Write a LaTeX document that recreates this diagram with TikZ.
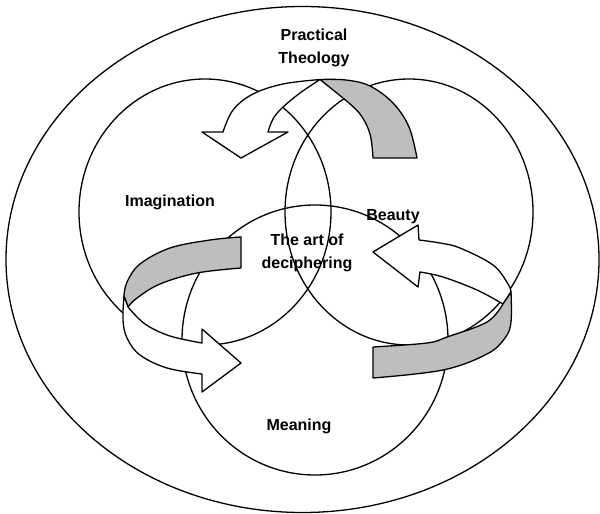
\documentclass[tikz,border=0pt]{standalone}
\usepackage{fontspec}
\setmainfont{Liberation Sans}
\definecolor{bandgrey}{RGB}{190,190,190}
\tikzset{
  ln/.style={line width=1.3pt, draw=black},
  band/.style={ln, line join=round, fill=white},
  greyband/.style={ln, line join=round, fill=bandgrey},
  lbl/.style={font=\fontsize{16}{24}\selectfont\bfseries, inner sep=0pt, anchor=base}
}
\begin{document}
\begin{tikzpicture}[x=1pt,y=-1pt]
\useasboundingbox (0,0) rectangle (600,514);
% outer ellipse and three circles
\draw[ln] (302.5,259.5) ellipse [x radius=296.5pt, y radius=253pt];
\draw[ln] (205,212) ellipse [x radius=126pt, y radius=133pt];
\draw[ln] (409,212) ellipse [x radius=124pt, y radius=133pt];
\draw[ln] (315,340) ellipse [x radius=133pt, y radius=135pt];
% top arrow
\draw[band] plot[smooth,tension=0.6] coordinates {(320,79.5) (283,84) (253,94) (233,110) (223,132)}
  -- (202,132) -- (241,158) -- (288,132) -- (268,132)
  -- plot[smooth,tension=0.6] coordinates {(268,132) (273,119) (282,108) (300,93) (320,79.5)} -- cycle;
\draw[greyband] plot[smooth,tension=0.6] coordinates {(320,79.5) (346,80) (370,86) (393,103) (409,127) (417,158)}
  -- (373,158)
  -- plot[smooth,tension=0.6] coordinates {(373,158) (370,134) (360,114) (343,98)} -- cycle;
% left arrow
\draw[greyband] plot[smooth,tension=0.6] coordinates {(241,237) (210,240) (170,248) (140,264) (127,282) (124,296)}
  -- (128,307)
  -- plot[smooth,tension=0.6] coordinates {(128,307) (137,298) (160,284) (197,273) (241,268)} -- cycle;
\draw[band] plot[smooth,tension=0.6] coordinates {(124,296) (123,320) (127,338) (140,355) (167,368) (202,374)}
  -- (202,392) -- (241,363) -- (202,329) -- (202,343)
  -- plot[smooth,tension=0.6] coordinates {(202,343) (170,336) (145,324) (128,307)} -- cycle;
% right arrow
\draw[band] (373,252) -- (418,225) -- (419,240)
  -- plot[smooth,tension=0.6] coordinates {(419,240) (440,243) (460,248) (493,265) (508,284) (511,292)}
  -- (503,304)
  -- plot[smooth,tension=0.6] coordinates {(503,304) (477,290) (443,277) (420,272)}
  -- (418,287) -- cycle;
\draw[greyband] plot[smooth,tension=0.6] coordinates {(511,292) (511,322) (505,338) (487,354) (443,370) (373,378)}
  -- (373,347)
  -- plot[smooth,tension=0.6] coordinates {(373,347) (427,343) (447,337) (487,322) (503,304)} -- cycle;
% labels
\node[lbl] (pt1) at (314,40) {Practical};
\node[lbl] (pt2) at (314,63) {Theology};
\node[lbl] (im) at (170,206) {Imagination};
\node[lbl] (be) at (393,220) {Beauty};
\node[lbl] (ar1) at (307,245) {The art of};
\node[lbl] (ar2) at (307,268) {deciphering};
\node[lbl] (me) at (299,430) {Meaning};
\end{tikzpicture}
\end{document}
